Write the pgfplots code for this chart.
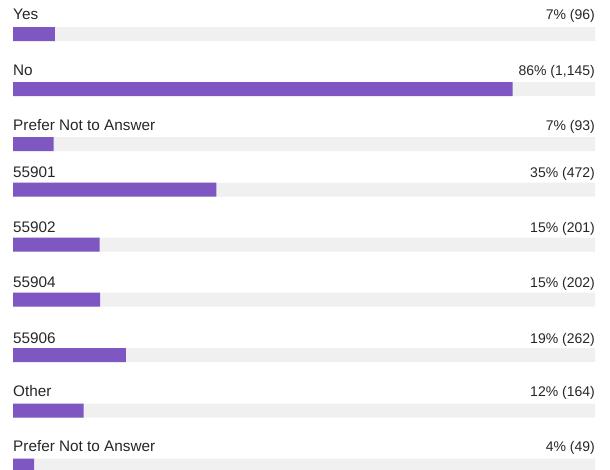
\documentclass[border=0pt]{standalone}
\usepackage{pgfplots}
\pgfplotsset{compat=1.18}
\usepackage{fontspec}
\setmainfont{Liberation Sans}
\definecolor{barpurple}{HTML}{7E57C2}
\definecolor{track}{HTML}{F0F0F0}
\definecolor{txt}{HTML}{262626}
\tikzset{
  lbl/.style={anchor=base west, text=txt, inner sep=0pt, font=\fontsize{15.3pt}{18pt}\selectfont},
  val/.style={anchor=base east, text=txt, inner sep=0pt, font=\fontsize{14pt}{17pt}\selectfont},
}
\begin{document}
\begin{tikzpicture}
\begin{axis}[
  scale only axis, width=610pt, height=469pt,
  xmin=-2.234, xmax=102.577, ymin=0, ymax=469, y dir=reverse,
  hide axis, xbar, bar width=14pt, bar shift=0pt, clip=true,
]
\path (rel axis cs:0,0) rectangle (rel axis cs:1,1);
\addplot[fill=track, draw=none] coordinates {(100,34) (100,89) (100,144) (100,189.5) (100,244.5) (100,299.5) (100,355) (100,410.5) (100,465.5)};
\addplot[fill=barpurple, draw=none] coordinates {(7.20,34) (85.83,89) (6.97,144) (34.96,189.5) (14.89,244.5) (14.96,299.5) (19.41,355) (12.15,410.5) (3.63,465.5)};
\node[lbl] at (axis cs:0,19) {Yes};
\node[val] at (axis cs:100,19) {7\% (96)};
\node[lbl] at (axis cs:0,75) {No};
\node[val] at (axis cs:100,75) {86\% (1,145)};
\node[lbl] at (axis cs:0,130) {Prefer Not to Answer};
\node[val] at (axis cs:100,130) {7\% (93)};
\node[lbl] at (axis cs:0,177) {55901};
\node[val] at (axis cs:100,177) {35\% (472)};
\node[lbl] at (axis cs:0,232) {55902};
\node[val] at (axis cs:100,232) {15\% (201)};
\node[lbl] at (axis cs:0,287) {55904};
\node[val] at (axis cs:100,287) {15\% (202)};
\node[lbl] at (axis cs:0,343) {55906};
\node[val] at (axis cs:100,343) {19\% (262)};
\node[lbl] at (axis cs:0,396) {Other};
\node[val] at (axis cs:100,396) {12\% (164)};
\node[lbl] at (axis cs:0,451) {Prefer Not to Answer};
\node[val] at (axis cs:100,451) {4\% (49)};
\end{axis}
\end{tikzpicture}
\end{document}
